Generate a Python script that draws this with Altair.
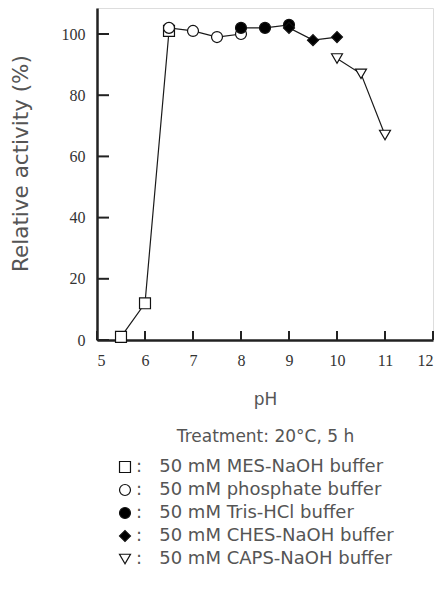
import altair as alt
import pandas as pd

# ---- data ----
series_names = [
    "50 mM MES-NaOH buffer",
    "50 mM phosphate buffer",
    "50 mM Tris-HCl buffer",
    "50 mM CHES-NaOH buffer",
    "50 mM CAPS-NaOH buffer",
]
ph_mes = [5.5, 6.0, 6.5]
act_mes = [1, 12, 101]
ph_phos = [6.5, 7.0, 7.5, 8.0]
act_phos = [102, 101, 99, 100]
ph_tris = [8.0, 8.5, 9.0]
act_tris = [102, 102, 103]
ph_ches = [9.0, 9.5, 10.0]
act_ches = [102, 98, 99]
ph_caps = [10.0, 10.5, 11.0]
act_caps = [92, 87, 67]

x_ticks = [5, 6, 7, 8, 9, 10, 11, 12]
y_ticks = [0, 20, 40, 60, 80, 100]

shapes = ["square", "circle", "circle", "diamond", "triangle-down"]
fills = ["white", "white", "black", "black", "white"]
strokes = ["#111111"] * 5
sizes = [120, 120, 170, 120, 120]
# line chains: first four buffers form one connected chain, CAPS separate
chains = ["A", "A", "A", "A", "B"]

NB = "\u00a0"
rows = []
order = 0
for name, chain, xs, ys in zip(
    series_names, chains,
    [ph_mes, ph_phos, ph_tris, ph_ches, ph_caps],
    [act_mes, act_phos, act_tris, act_ches, act_caps],
):
    for x, y in zip(xs, ys):
        rows.append({"pH": x, "act": y, "buffer": ":" + NB * 3 + name, "chain": chain, "order": order})
        order += 1
df = pd.DataFrame(rows)
legend_domain = [":" + NB * 3 + n for n in series_names]

xt = pd.DataFrame({"t": x_ticks})
yt = pd.DataFrame({"t": y_ticks})

W, H = 336, 332
SANS = "DejaVu Sans"
GRAY = "#555555"

xscale = alt.Scale(domain=[5, 12], nice=False, zero=False)
yscale = alt.Scale(domain=[0, 108.5], nice=False)

def leg():
    return alt.Legend(title=None, orient="none", legendX=19, legendY=450,
                      labelFont=SANS, labelFontSize=18, labelColor=GRAY,
                      symbolStrokeWidth=1.2, rowPadding=5, labelOffset=2,
                      labelLimit=400)

base = alt.Chart(df)

line = base.mark_line(color="#1a1a1a", strokeWidth=1.2).encode(
    x=alt.X("pH:Q", scale=xscale,
            axis=alt.Axis(values=x_ticks, tickSize=0, grid=False, domainColor="#222",
                          domainWidth=2.5, labelFont="Liberation Serif", labelFontSize=16,
                          labelColor="#333333", labelPadding=12,
                          title=["pH", "Treatment: 20°C, 5 h"], titleFont=SANS,
                          titleFontSize=17, titleFontWeight="normal", titleColor=GRAY,
                          titleLineHeight=37, titleBaseline="top", titleY=51)),
    y=alt.Y("act:Q", scale=yscale,
            axis=alt.Axis(values=y_ticks, tickSize=0, grid=False, domainColor="#222",
                          domainWidth=2.5, labelFont="Liberation Serif", labelFontSize=16,
                          labelColor="#333333", labelPadding=12,
                          title="Relative activity (%)", titleFont=SANS, titleFontSize=21.5,
                          titleFontWeight="normal", titleColor=GRAY, titleX=-76, titleY=155,
                          titleBaseline="middle", titleAlign="center", titleAngle=270)),
    detail="chain:N",
    order="order:Q",
)

points = base.mark_point(strokeWidth=1.2, opacity=1, filled=False).encode(
    x=alt.X("pH:Q", scale=xscale),
    y=alt.Y("act:Q", scale=yscale),
    shape=alt.Shape("buffer:N", scale=alt.Scale(domain=legend_domain, range=shapes), legend=leg()),
    fill=alt.Fill("buffer:N", scale=alt.Scale(domain=legend_domain, range=fills), legend=leg()),
    stroke=alt.Stroke("buffer:N", scale=alt.Scale(domain=legend_domain, range=strokes), legend=leg()),
    size=alt.Size("buffer:N", scale=alt.Scale(domain=legend_domain, range=sizes), legend=leg()),
)

xticks = alt.Chart(xt).mark_rule(color="#222", strokeWidth=2).encode(
    x=alt.X("t:Q", scale=xscale), y=alt.value(H), y2=alt.value(H - 9))
yticks = alt.Chart(yt).mark_rule(color="#222", strokeWidth=2).encode(
    y=alt.Y("t:Q", scale=yscale), x=alt.value(0), x2=alt.value(12))

chart = alt.layer(xticks, yticks, line, points).properties(
    width=W, height=H,
    autosize=alt.AutoSizeParams(type="none"),
    padding={"left": 89, "top": 0, "right": 4, "bottom": 263},
).configure_view(stroke="#333", strokeWidth=2).configure(background="white")

chart.save("out.html", embed_options={"renderer": "svg", "actions": False})
